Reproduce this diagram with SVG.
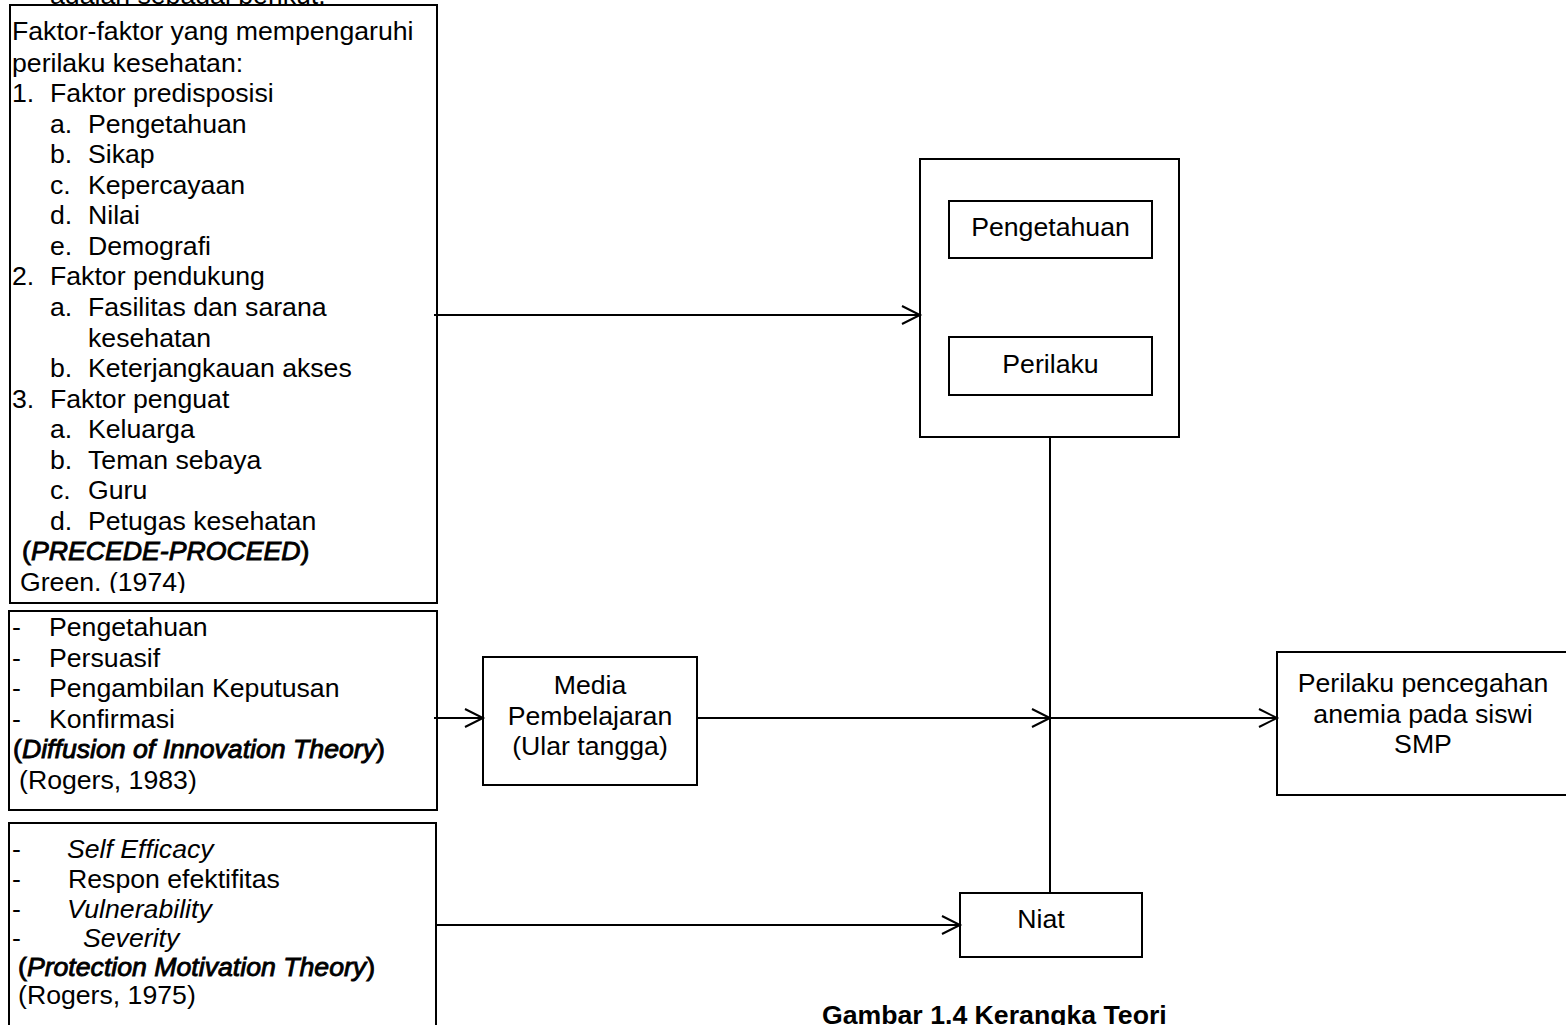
<svg xmlns="http://www.w3.org/2000/svg" width="1566" height="1025" viewBox="0 0 1566 1025">
<style>
text{font-family:"Liberation Sans",Arial,sans-serif;font-size:26.67px;fill:#000}
.box{fill:#fff;stroke:#000;stroke-width:2}
.c{text-anchor:middle}
.fb{stroke:#000;stroke-width:0.9px}
.i{font-style:italic}
.cap{font-weight:bold}
.ln{stroke:#000;stroke-width:2;fill:none}
</style>
<defs>
<marker id="arr" markerUnits="userSpaceOnUse" markerWidth="24" markerHeight="24" refX="19" refY="10" orient="auto">
<path d="M1,1 L19,10 L1,19" fill="none" stroke="#000" stroke-width="2"/>
</marker>
<clipPath id="clip1"><rect x="0" y="0" width="440" height="593"/></clipPath>
<clipPath id="clip2"><rect x="0" y="600" width="440" height="201"/></clipPath>
</defs>

<text x="50" y="4">adalah sebagai berikut.</text>

<g id="box-precede">
<rect class="box" x="10" y="5" width="427" height="598"/>
<g clip-path="url(#clip1)">
<text x="12" y="40">Faktor-faktor yang mempengaruhi</text>
<text x="12" y="71.5">perilaku kesehatan:</text>
<text x="12" y="102">1.</text><text x="50" y="102">Faktor predisposisi</text>
<text x="50" y="132.6">a.</text><text x="88" y="132.6">Pengetahuan</text>
<text x="50" y="163.1">b.</text><text x="88" y="163.1">Sikap</text>
<text x="50" y="193.7">c.</text><text x="88" y="193.7">Kepercayaan</text>
<text x="50" y="224.2">d.</text><text x="88" y="224.2">Nilai</text>
<text x="50" y="254.8">e.</text><text x="88" y="254.8">Demografi</text>
<text x="12" y="285.4">2.</text><text x="50" y="285.4">Faktor pendukung</text>
<text x="50" y="315.9">a.</text><text x="88" y="315.9">Fasilitas dan sarana</text>
<text x="88" y="346.5">kesehatan</text>
<text x="50" y="377">b.</text><text x="88" y="377">Keterjangkauan akses</text>
<text x="12" y="407.6">3.</text><text x="50" y="407.6">Faktor penguat</text>
<text x="50" y="438.2">a.</text><text x="88" y="438.2">Keluarga</text>
<text x="50" y="468.7">b.</text><text x="88" y="468.7">Teman sebaya</text>
<text x="50" y="499.3">c.</text><text x="88" y="499.3">Guru</text>
<text x="50" y="529.8">d.</text><text x="88" y="529.8">Petugas kesehatan</text>
<text class="fb" x="22" y="560.4">(<tspan class="i">PRECEDE-PROCEED</tspan>)</text>
<text x="20" y="591">Green. (1974)</text>
</g>
</g>

<g id="box-diffusion">
<rect class="box" x="9" y="611" width="428" height="199"/>
<g clip-path="url(#clip2)">
<text x="12" y="636">-</text><text x="49" y="636">Pengetahuan</text>
<text x="12" y="666.5">-</text><text x="49" y="666.5">Persuasif</text>
<text x="12" y="697">-</text><text x="49" y="697">Pengambilan Keputusan</text>
<text x="12" y="727.5">-</text><text x="49" y="727.5">Konfirmasi</text>
<text class="fb" x="13" y="758">(<tspan class="i">Diffusion of Innovation Theory</tspan>)</text>
<text x="19" y="788.5">(Rogers, 1983)</text>
</g>
</g>

<g id="box-protection">
<rect class="box" x="9" y="823" width="427" height="230"/>
<text x="12" y="858">-</text><text class="i" x="67" y="858">Self Efficacy</text>
<text x="12" y="888">-</text><text x="68" y="888">Respon efektifitas</text>
<text x="12" y="917.5">-</text><text class="i" x="67" y="917.5">Vulnerability</text>
<text x="12" y="947">-</text><text class="i" x="83" y="947">Severity</text>
<text class="fb" x="18" y="976">(<tspan class="i">Protection Motivation Theory</tspan>)</text>
<text x="18" y="1004">(Rogers, 1975)</text>
</g>

<g id="box-outcome-group">
<rect class="box" x="920" y="159" width="259" height="278"/>
</g>
<g id="node-pengetahuan">
<rect class="box" x="949" y="201" width="203" height="57"/>
<text class="c" x="1050.5" y="236">Pengetahuan</text>
</g>
<g id="node-perilaku">
<rect class="box" x="949" y="337" width="203" height="58"/>
<text class="c" x="1050.5" y="373">Perilaku</text>
</g>

<g id="node-media">
<rect class="box" x="483" y="657" width="214" height="128"/>
<text class="c" x="590" y="694">Media</text>
<text class="c" x="590" y="724.5">Pembelajaran</text>
<text class="c" x="590" y="755">(Ular tangga)</text>
</g>

<g id="node-hasil">
<rect class="box" x="1277" y="652" width="300" height="143"/>
<text class="c" x="1423" y="692">Perilaku pencegahan</text>
<text class="c" x="1423" y="722.5">anemia pada siswi</text>
<text class="c" x="1423" y="753">SMP</text>
</g>

<g id="node-niat">
<rect class="box" x="960" y="893" width="182" height="64"/>
<text class="c" x="1041" y="928">Niat</text>
</g>

<g id="connectors">
<line class="ln" x1="434" y1="315" x2="920" y2="315" marker-end="url(#arr)"/>
<line class="ln" x1="434" y1="718" x2="483" y2="718" marker-end="url(#arr)"/>
<line class="ln" x1="697" y1="718" x2="1050" y2="718" marker-end="url(#arr)"/>
<line class="ln" x1="1050" y1="718" x2="1277" y2="718" marker-end="url(#arr)"/>
<line class="ln" x1="436" y1="925" x2="960" y2="925" marker-end="url(#arr)"/>
<line class="ln" x1="1050" y1="437" x2="1050" y2="893"/>
</g>

<text class="cap" x="822" y="1024">Gambar 1.4 Kerangka Teori</text>
</svg>
